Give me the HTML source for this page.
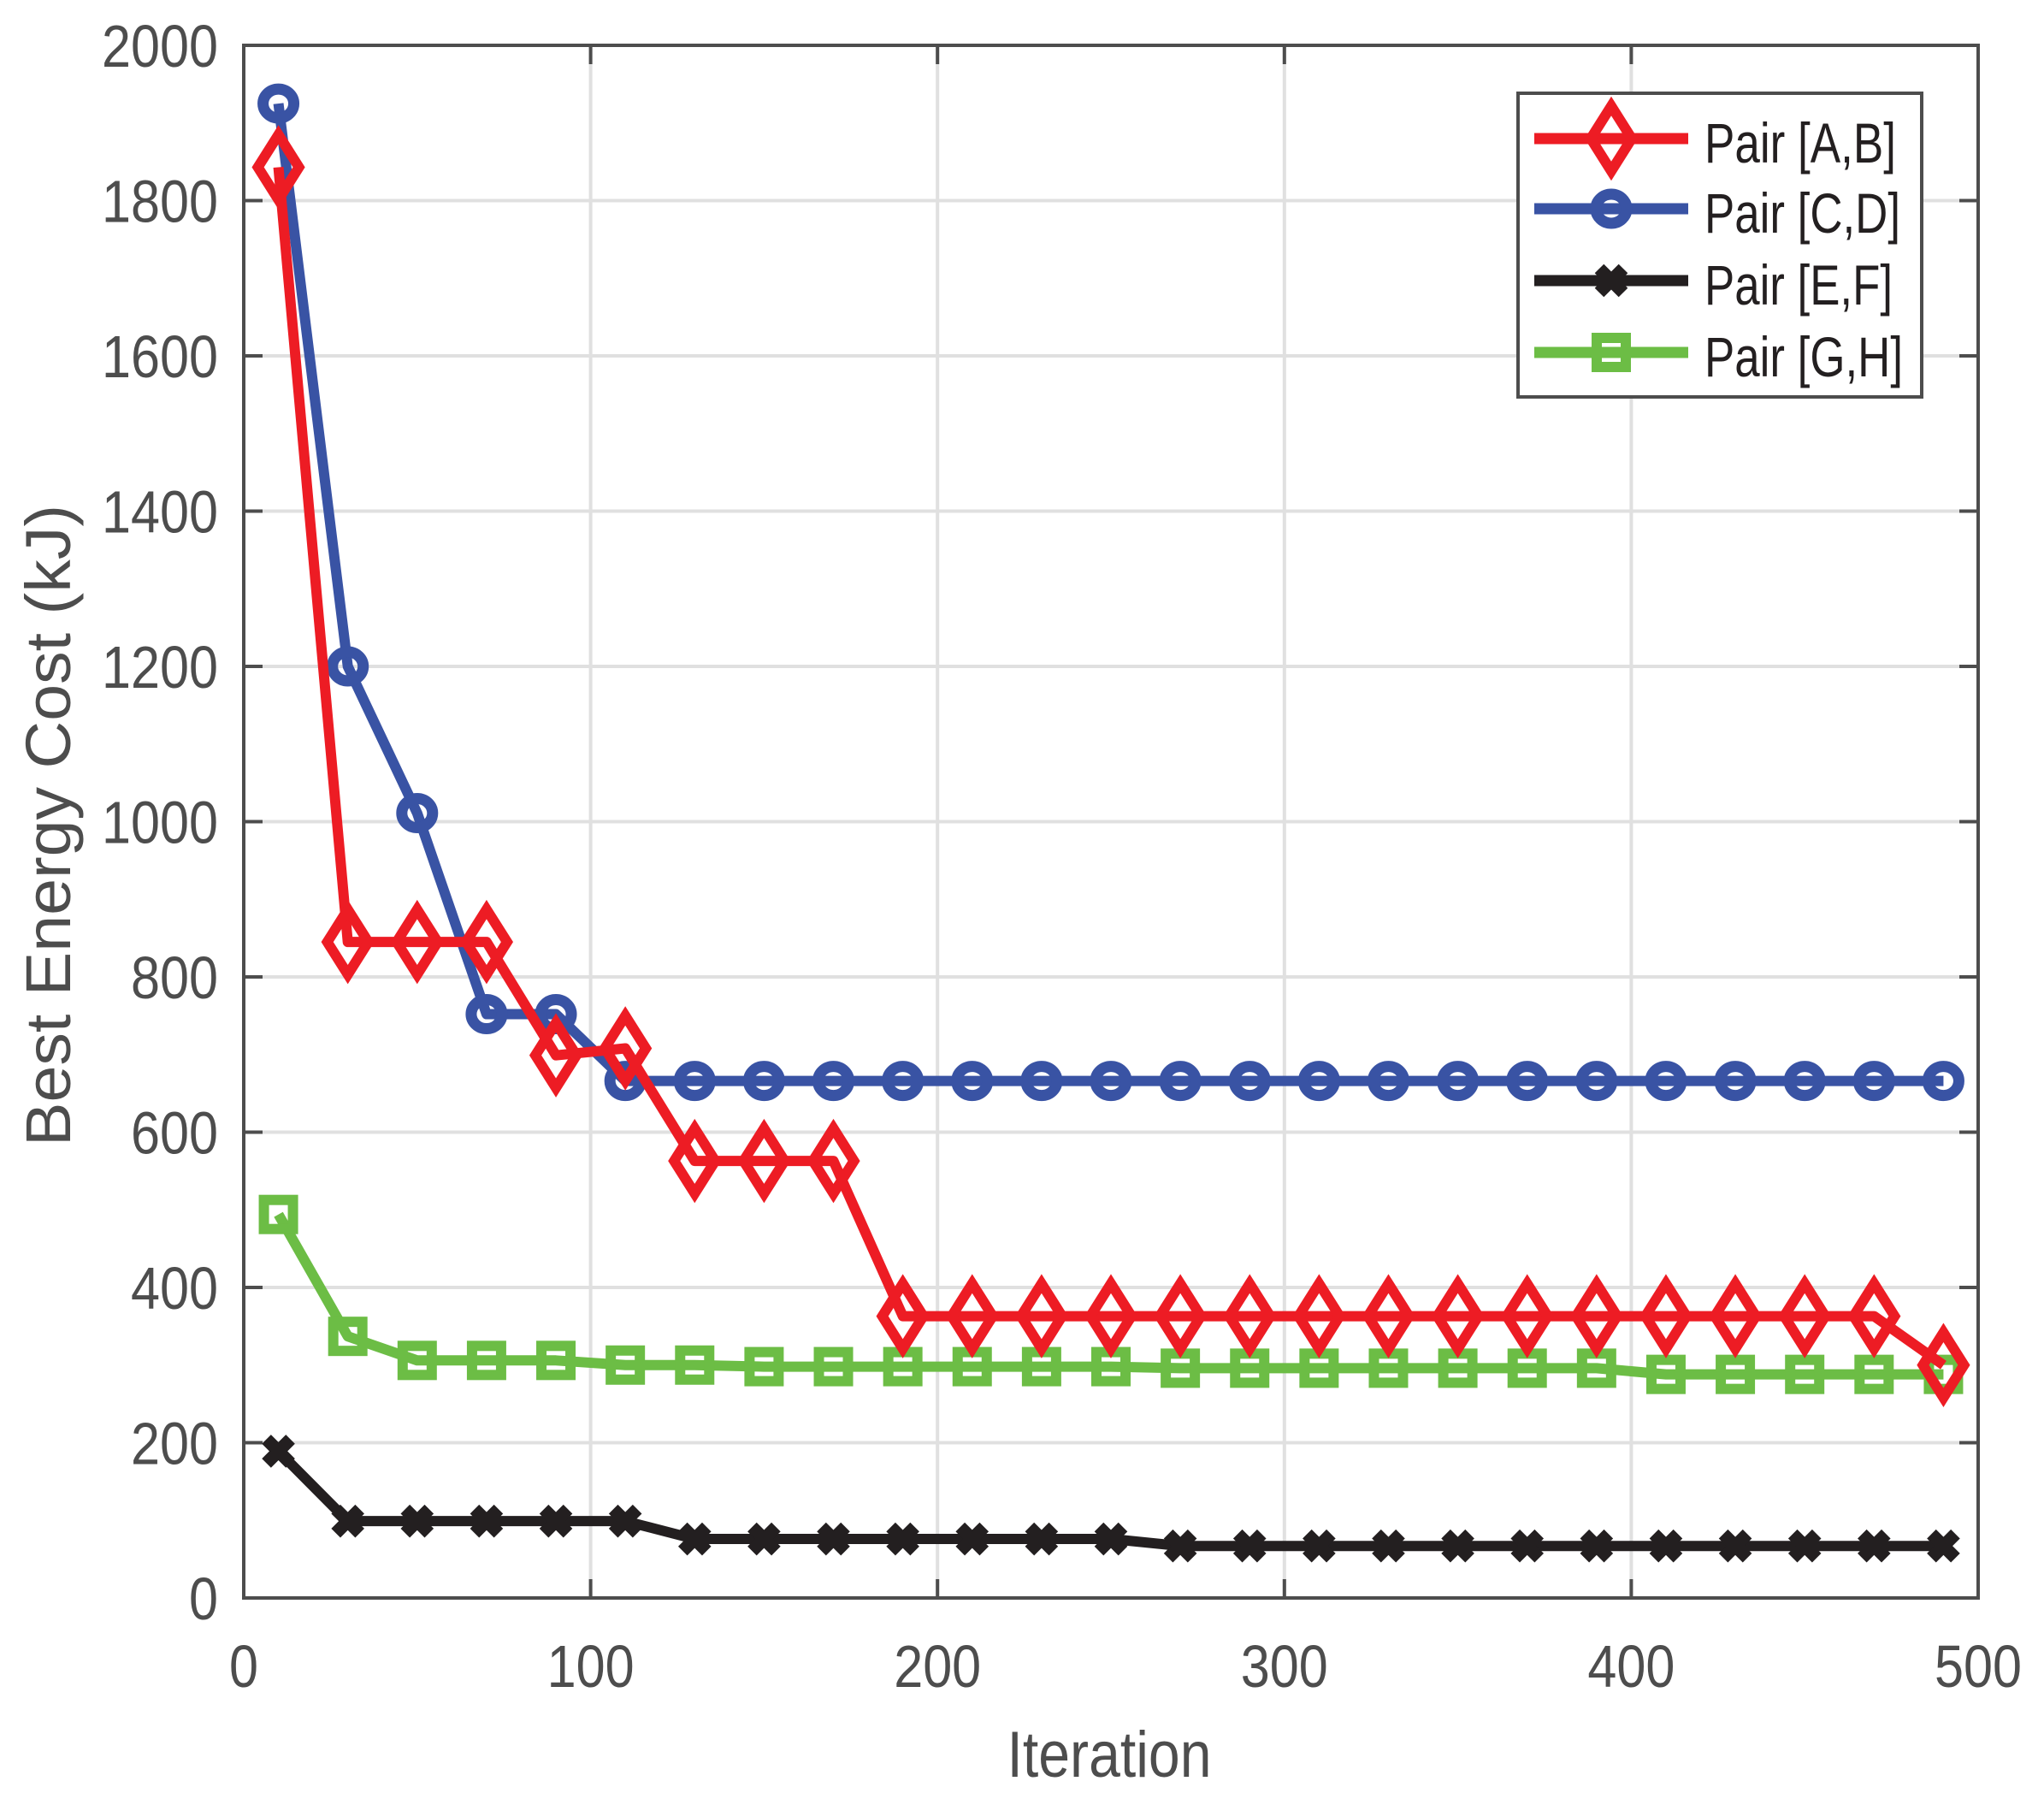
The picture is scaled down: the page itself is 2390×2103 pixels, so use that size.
<!DOCTYPE html>
<html><head><meta charset="utf-8"><style>html,body{margin:0;padding:0;background:#fff}svg{display:block}</style></head>
<body>
<svg id="s" xmlns="http://www.w3.org/2000/svg" width="2390" height="2103" viewBox="0 0 2390 2103" font-family="Liberation Sans, Arial, sans-serif"></svg>
<script>
const L=285,R=2313,T=53,B=1868;
const X=v=>L+(v/500)*(R-L), Y=v=>B-(v/2000)*(B-T);
let s='';
for(let i=1;i<5;i++){s+=`<line x1="${X(i*100)}" y1="${T}" x2="${X(i*100)}" y2="${B}" stroke="#e0e0e0" stroke-width="4"/>`;}
for(let i=1;i<10;i++){s+=`<line x1="${L}" y1="${Y(i*200)}" x2="${R}" y2="${Y(i*200)}" stroke="#e0e0e0" stroke-width="4"/>`;}
for(let i=0;i<=5;i++){const x=X(i*100);s+=`<line x1="${x}" y1="${B}" x2="${x}" y2="${B-22}" stroke="#4d4d4d" stroke-width="4"/><line x1="${x}" y1="${T}" x2="${x}" y2="${T+22}" stroke="#4d4d4d" stroke-width="4"/>`;
 const t=String(i*100);s+=`<text x="${x}" y="1972" font-size="70" fill="#4d4d4d" text-anchor="middle" textLength="${t.length*34}" lengthAdjust="spacingAndGlyphs">${t}</text>`;}
for(let i=0;i<=10;i++){const y=Y(i*200);s+=`<line x1="${L}" y1="${y}" x2="${L+22}" y2="${y}" stroke="#4d4d4d" stroke-width="4"/><line x1="${R}" y1="${y}" x2="${R-22}" y2="${y}" stroke="#4d4d4d" stroke-width="4"/>`;
 const t=String(i*200);s+=`<text x="${255}" y="${y+25}" font-size="70" fill="#4d4d4d" text-anchor="end" textLength="${t.length*34}" lengthAdjust="spacingAndGlyphs">${t}</text>`;}
s+=`<rect x="${L}" y="${T}" width="${R-L}" height="${B-T}" fill="none" stroke="#4d4d4d" stroke-width="4"/>`;
s+=`<text x="1297" y="2077" font-size="76" fill="#4d4d4d" text-anchor="middle" textLength="239" lengthAdjust="spacingAndGlyphs">Iteration</text>`;
s+=`<text transform="translate(82,965) rotate(-90)" x="0" y="0" font-size="74" fill="#4d4d4d" text-anchor="middle" textLength="750" lengthAdjust="spacingAndGlyphs">Best Energy Cost (kJ)</text>`;
const xs=[];for(let i=0;i<25;i++)xs.push(10+20*i);
const red=[1843,845,845,845,699,708,563,563,563].concat(Array(15).fill(363)).concat([300]);
const blue=[1925,1200,1011,752,752,666].concat(Array(19).fill(666));
const blk=[189,99,99,99,99,99,76,76,76,76,76,76,76].concat(Array(12).fill(67));
const grn=[494,337,306,306,306,300,300,298,298,298,298,298,298,296,296,296,296,296,296,296,288,288,288,288,288];
const C={r:'#ed1c24',b:'#3953a4',k:'#231f20',g:'#6cbd45'};
function mk(t,x,y){
 if(t=='r')return `<polygon points="${x},${y-38} ${x+24},${y} ${x},${y+38} ${x-24},${y}" fill="none" stroke="${C.r}" stroke-width="12"/>`;
 if(t=='b')return `<ellipse cx="${x}" cy="${y}" rx="18" ry="17" fill="none" stroke="${C.b}" stroke-width="13"/>`;
 if(t=='g')return `<rect x="${x-17}" y="${y-17}" width="34" height="34" fill="none" stroke="${C.g}" stroke-width="12"/>`;
 return `<path d="M${x-14},${y-14}L${x+14},${y+14}M${x-14},${y+14}L${x+14},${y-14}" stroke="${C.k}" stroke-width="15"/>`;
}
function series(t,d){
 s+=`<polyline points="${xs.map((v,i)=>X(v)+','+Y(d[i])).join(' ')}" fill="none" stroke="${C[t]}" stroke-width="12" stroke-linejoin="round"/>`;
 xs.forEach((v,i)=>s+=mk(t,X(v),Y(d[i])));
}
series('g',grn);series('k',blk);series('b',blue);series('r',red);
s+=`<rect x="1775" y="109" width="472" height="355" fill="#fff" stroke="#4d4d4d" stroke-width="4"/>`;
const names=['Pair [A,B]','Pair [C,D]','Pair [E,F]','Pair [G,H]'],ts=['r','b','k','g'],ly=[162,244,328,412];
ts.forEach((t,i)=>{s+=`<line x1="1794" y1="${ly[i]}" x2="1974" y2="${ly[i]}" stroke="${C[t]}" stroke-width="13"/>`+mk(t,1884,ly[i]);
 s+=`<text x="1993" y="${ly[i]+28}" font-size="66" fill="#231f20" textLength="${[224,229,220,232][i]}" lengthAdjust="spacingAndGlyphs">${names[i]}</text>`;});
document.getElementById('s').innerHTML=s;
</script>
</body></html>
